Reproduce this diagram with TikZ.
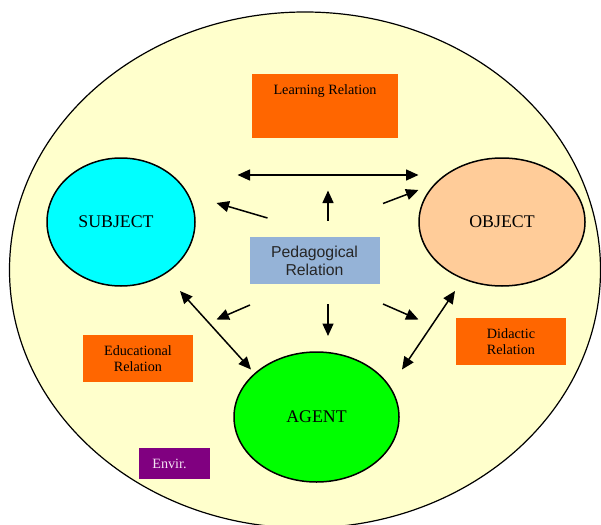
\documentclass[tikz,border=0pt]{standalone}
\usepackage{fontspec}
\setmainfont{Liberation Serif}
\newfontfamily\arialfont{Liberation Sans}
\usetikzlibrary{shapes.geometric,arrows.meta}
\definecolor{bgyellow}{HTML}{FFFFCC}
\definecolor{subjcol}{HTML}{00FFFF}
\definecolor{objcol}{HTML}{FFCC99}
\definecolor{agentcol}{HTML}{00FF00}
\definecolor{orangecol}{HTML}{FF6600}
\definecolor{pedcol}{HTML}{95B3D7}
\definecolor{envcol}{HTML}{800080}
\definecolor{envtext}{HTML}{F4E4F4}
\tikzset{
  actor/.style={ellipse, draw=black, line width=1.5pt, inner sep=0pt,
    font=\fontsize{17.8}{20}\selectfont},
  relbox/.style={rectangle, fill=orangecol, inner sep=0pt, align=center,
    font=\fontsize{14.2}{16.7}\selectfont},
  relarrow/.style={line width=1.5pt, -{Triangle[length=12.5pt,width=11pt]}},
  dblarrow/.style={line width=1.5pt, {Triangle[length=12.5pt,width=11pt]}-{Triangle[length=12.5pt,width=11pt]}}
}
\begin{document}
\begin{tikzpicture}[x=1pt,y=-1pt]
\useasboundingbox (0,0) rectangle (601,524);
\begin{scope}
  \clip (0,0) rectangle (601,524);
  \draw[fill=bgyellow, line width=1.2pt] (305,270) ellipse [x radius=295.5, y radius=258];
\end{scope}

% actors
\node[actor, fill=subjcol, minimum width=148, minimum height=128] (subject) at (121,222) {SUBJECT\kern10pt};
\node[actor, fill=objcol, minimum width=166, minimum height=128] (object) at (502,222) {OBJECT};
\node[actor, fill=agentcol, minimum width=165, minimum height=130] (agent) at (316.5,417) {AGENT};

% relation boxes
\node[relbox, minimum width=146, minimum height=64] (learn) at (325,106) {};
\node[font=\fontsize{14.2}{16.7}\selectfont, inner sep=0pt] (learntext) at ([yshift=-17pt]learn.north) {Learning Relation};
\node[rectangle, fill=pedcol, inner sep=0pt, minimum width=130, minimum height=47, align=center,
  font=\arialfont\fontsize{15.8}{18}\selectfont, text=black!85] (ped) at (314.5,260.5) {Pedagogical\\Relation};
\node[relbox, minimum width=110, minimum height=47] (edu) at (138,358.5) {Educational\\Relation};
\node[relbox, minimum width=110, minimum height=47] (did) at (511,341.5) {Didactic\\Relation};
\node[rectangle, fill=envcol, inner sep=0pt, minimum width=71, minimum height=31] (env) at (174.5,463.5) {};
\node[text=envtext, font=\fontsize{14.2}{16.7}\selectfont, inner sep=0pt] (envtxt) at ([xshift=-5pt]env.center) {Envir.};

% arrow end points
\coordinate (h1) at (237.5,175);
\coordinate (h2) at (418.5,175);
\coordinate (u1) at (328,220.5);
\coordinate (u2) at (328,190.5);
\coordinate (sl1) at (267.5,218);
\coordinate (sl2) at (216.5,203);
\coordinate (or1) at (383,203.5);
\coordinate (or2) at (418.5,190);
\coordinate (dl1) at (250,305);
\coordinate (dl2) at (216.5,319.5);
\coordinate (d1) at (328,304);
\coordinate (d2) at (328,336);
\coordinate (dr1) at (383,304);
\coordinate (dr2) at (418.5,319.5);
\coordinate (sa1) at (180,291);
\coordinate (sa2) at (251,369.5);
\coordinate (oa1) at (455,291);
\coordinate (oa2) at (402,369.5);

\draw[dblarrow] (h1) -- (h2);
\draw[relarrow] (u1) -- (u2);
\draw[relarrow] (sl1) -- (sl2);
\draw[relarrow] (or1) -- (or2);
\draw[relarrow] (dl1) -- (dl2);
\draw[relarrow] (d1) -- (d2);
\draw[relarrow] (dr1) -- (dr2);
\draw[dblarrow] (sa1) -- (sa2);
\draw[dblarrow] (oa1) -- (oa2);
\end{tikzpicture}
\end{document}
